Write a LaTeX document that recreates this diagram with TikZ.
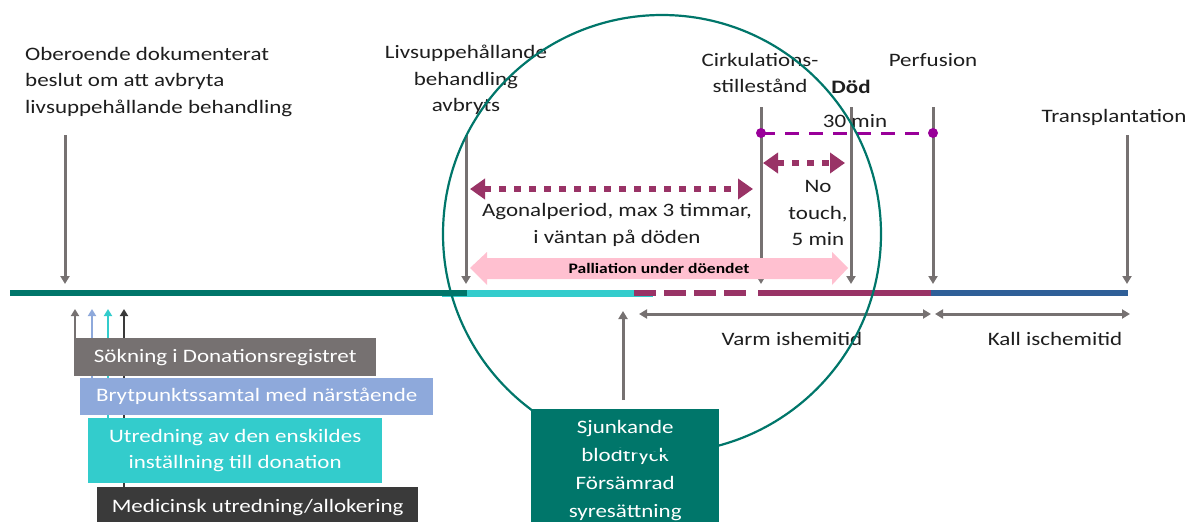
\documentclass[tikz,border=0pt]{standalone}
\usepackage{fontspec}
\setmainfont{Carlito}[FakeStretch=1.21]
\usetikzlibrary{arrows.meta}

\definecolor{tealdark}{RGB}{0,118,106}
\definecolor{cyanline}{RGB}{51,204,204}
\definecolor{maroon}{RGB}{153,51,102}
\definecolor{blueline}{RGB}{47,95,152}
\definecolor{grayline}{RGB}{118,113,113}
\definecolor{purpleline}{RGB}{153,0,153}
\definecolor{pinkband}{RGB}{255,192,208}
\definecolor{lightblue}{RGB}{142,169,219}
\definecolor{darkbox}{RGB}{58,58,58}
\definecolor{txt}{RGB}{30,30,30}

\begin{document}
\begin{tikzpicture}[x=1pt, y=-1pt,
    every node/.style={font=\fontsize{19}{26.5}\selectfont, text=txt, inner sep=0pt},
    eventarrow/.style={grayline, line width=3pt, -{Triangle[length=8pt,width=9pt]}},
    spanarrow/.style={grayline, line width=3pt, {Triangle[length=8pt,width=9pt]}-{Triangle[length=8pt,width=9pt]}},
    dotarrow/.style={maroon, line width=6.5pt, dash pattern=on 7pt off 8pt,
        {Triangle[length=15pt,width=20pt]}-{Triangle[length=15pt,width=20pt]}},
    uparrow/.style={line width=2.5pt, -{Triangle[length=7pt,width=8pt]}},
    infobox/.style={anchor=north west, text=white, inner sep=2pt, align=center}]
    \useasboundingbox (0,0) rectangle (1194,522);

    % Draw the timeline
    \draw[cyanline, line width=4pt] (442,295) -- (653,295);
    \draw[tealdark, line width=6pt] (10,293) -- (467,293);
    \draw[cyanline, line width=6pt] (467,293) -- (634,293);
    \draw[maroon, line width=6pt, dash pattern=on 22pt off 8pt] (634,293) -- (748,293);
    \draw[maroon, line width=6pt] (758,293) -- (931,293);
    \draw[blueline, line width=6pt] (931,293) -- (1128,293);

    % Events above the line
    \node[anchor=west, align=left] (lblDecide) at (25,82)
        {Oberoende dokumenterat\\beslut om att avbryta\\livsuppehållande behandling};
    \node[align=center] (lblStop) at (466,80) {Livsuppehållande\\behandling\\avbryts};
    \node[align=center] (lblCirc) at (760,73) {Cirkulations-\\stillestånd};
    \node[font=\fontsize{19}{26.5}\selectfont\bfseries] (lblDeath) at (851,87) {Död};
    \node (lblPerf) at (933,60) {Perfusion};
    \node (lblTx) at (1114,117) {Transplantation};

    \coordinate (decideTop) at (65,135);  \coordinate (decideEnd) at (65,284);
    \coordinate (stopTop) at (466,135);   \coordinate (stopEnd) at (466,284);
    \coordinate (circTop) at (761,107);   \coordinate (circEnd) at (761,284);
    \coordinate (deathTop) at (851,107);  \coordinate (deathEnd) at (851,284);
    \coordinate (perfTop) at (933,107);   \coordinate (perfEnd) at (933,284);
    \coordinate (txTop) at (1127,135);    \coordinate (txEnd) at (1127,284);

    \draw[eventarrow] (decideTop) -- (decideEnd);
    \draw[eventarrow] (stopTop) -- (stopEnd);
    \draw[eventarrow] (circTop) -- (circEnd);
    \draw[eventarrow] (deathTop) -- (deathEnd);
    \draw[eventarrow] (perfTop) -- (perfEnd);
    \draw[eventarrow] (txTop) -- (txEnd);

    % 30 min window
    \coordinate (winL) at (761,133);
    \coordinate (winR) at (933,133);
    \draw[purpleline, line width=3pt, dash pattern=on 14pt off 10pt] (winL) -- (winR);
    \fill[purpleline] (winL) circle[radius=5pt] (winR) circle[radius=5pt];
    \node (lblWin) at (855,121) {30 min};

    % Agonal period and no touch
    \coordinate (agoL) at (470,189);
    \coordinate (agoR) at (753,189);
    \draw[dotarrow] (agoL) -- (agoR);
    \node[align=center] (lblAgo) at (617,225) {Agonalperiod, max 3 timmar,\\i väntan på döden};

    \coordinate (touchL) at (763,163);
    \coordinate (touchR) at (845,163);
    \draw[dotarrow] (touchL) -- (touchR);
    \node[align=center] (lblTouch) at (818,213) {No\\touch,\\5 min};

    % Palliation band
    \fill[pinkband] (470,268) -- (487,252) -- (487,258) -- (832,258) -- (832,252)
        -- (848,268) -- (832,285) -- (832,279) -- (487,279) -- (487,285) -- cycle;
    \node[font=\fontsize{14.5}{18}\selectfont\bfseries, text=black] (lblPall) at (659,268)
        {Palliation under döendet};

    % Ischemic times
    \coordinate (varmL) at (639,314);  \coordinate (varmR) at (931,314);
    \coordinate (kallL) at (935,314);  \coordinate (kallR) at (1130,314);
    \draw[spanarrow] (varmL) -- (varmR);
    \draw[spanarrow] (kallL) -- (kallR);
    \node (lblVarm) at (792,339) {Varm ishemitid};
    \node (lblKall) at (1055,339) {Kall ischemitid};

    % Blood pressure box
    \node[infobox, fill=tealdark, minimum width=188pt, minimum height=122pt,
        font=\fontsize{19}{28}\selectfont] (boxPress) at (531,409)
        {Sjunkande\\blodtryck\\Försämrad\\syresättning};
    \coordinate (pressTop) at (623,400);
    \coordinate (pressEnd) at (623,311);
    \draw[eventarrow] (pressTop) -- (pressEnd);

    % Parallel work before withdrawal
    \coordinate (searchEnd) at (75,309);  \coordinate (searchTop) at (75,340);
    \coordinate (talkEnd) at (92,309);    \coordinate (talkTop) at (92,380);
    \coordinate (viewEnd) at (108,309);   \coordinate (viewTop) at (108,420);
    \coordinate (medEnd) at (124,309);    \coordinate (medTop) at (124,489);
    \draw[uparrow, grayline] (searchTop) -- (searchEnd);
    \draw[uparrow, lightblue] (talkTop) -- (talkEnd);
    \draw[uparrow, cyanline] (viewTop) -- (viewEnd);
    \draw[uparrow, darkbox] (medTop) -- (medEnd);

    \node[infobox, fill=grayline, minimum width=302pt, minimum height=38pt] (boxSearch)
        at (74,338) {Sökning i Donationsregistret};
    \node[infobox, fill=lightblue, minimum width=353pt, minimum height=37pt] (boxTalk)
        at (80,378) {Brytpunktssamtal med närstående};
    \node[infobox, fill=cyanline, minimum width=294pt, minimum height=65pt] (boxView)
        at (88,418) {Utredning av den enskildes\\inställning till donation};
    \node[infobox, fill=darkbox, minimum width=321pt, minimum height=40pt] (boxMed)
        at (97,487) {Medicinsk utredning/allokering};

    % The circle
    \draw[tealdark, line width=2.2pt] (662,234) circle[radius=219pt];
\end{tikzpicture}
\end{document}
